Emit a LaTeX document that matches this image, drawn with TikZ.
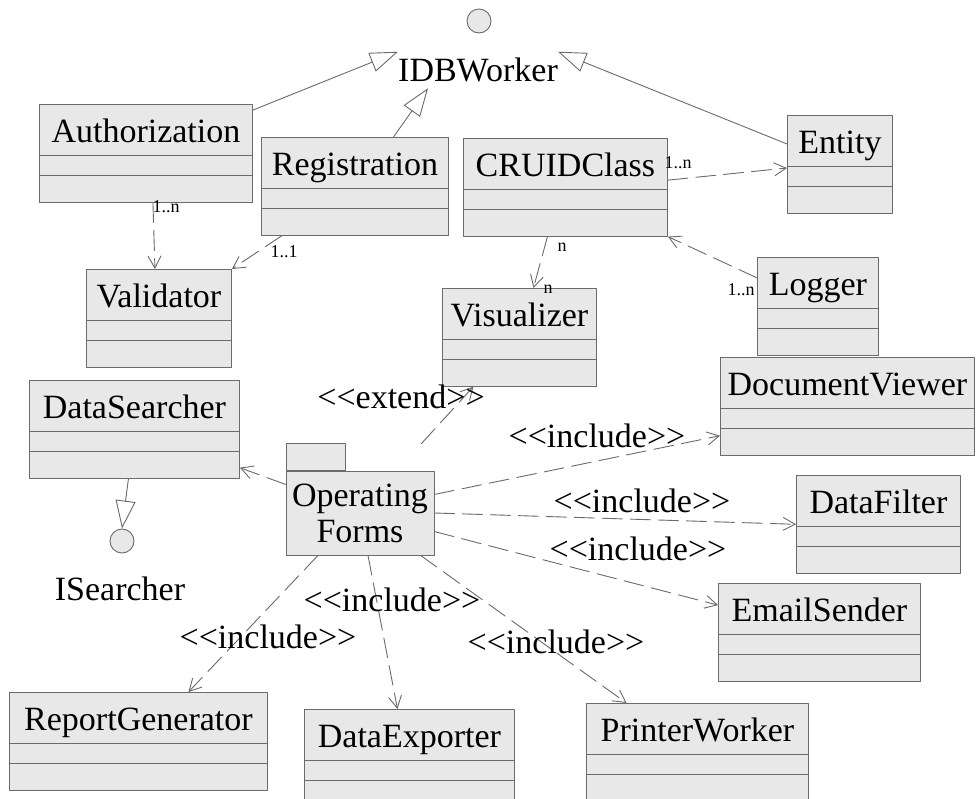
\documentclass[tikz,border=0pt]{standalone}
\usepackage{fontspec}
\newfontfamily\umlfont{Liberation Serif}
\usetikzlibrary{arrows.meta}
\usetikzlibrary{shapes.multipart}
\definecolor{boxgray}{rgb}{0.91,0.91,0.91}
\definecolor{edgegray}{rgb}{0.42,0.42,0.42}
\newcommand{\classparts}[1]{\rule[-12pt]{0pt}{50pt}#1\nodepart{two}\rule{0pt}{19pt}\nodepart{three}\rule{0pt}{26pt}}

\begin{document}
\begin{tikzpicture}[line cap=round,line join=round,x=1pt,y=-1pt,
  classbox/.style={rectangle split,rectangle split parts=3,draw=edgegray,fill=boxgray,line width=0.9pt,inner sep=0pt,text width=#1,align=center,anchor=north west,font=\umlfont\fontsize{34}{36}\selectfont},
  pkgbox/.style={draw=edgegray,fill=boxgray,line width=0.9pt,inner sep=0pt,minimum width=148pt,minimum height=84pt,align=center,font=\umlfont\fontsize{34}{36}\selectfont},
  pkgtab/.style={draw=edgegray,fill=boxgray,line width=0.9pt,inner sep=0pt,minimum width=59pt,minimum height=27pt,anchor=south west},
  iface/.style={circle,draw=edgegray,fill=boxgray,line width=0.9pt,minimum size=24pt,inner sep=0pt},
  bigtext/.style={font=\umlfont\fontsize{34}{36}\selectfont,inner xsep=0pt,inner ysep=6pt},
  mult/.style={font=\umlfont\fontsize{18}{20}\selectfont,inner sep=0pt,anchor=base},
  stereo/.style={font=\umlfont\fontsize{34}{36}\selectfont,inner sep=0pt,anchor=base},
  gen/.style={draw=edgegray,line width=0.9pt,-{Triangle[open,length=28pt,width=20pt]}},
  dep/.style={draw=edgegray,line width=0.9pt,dash pattern=on 20pt off 8pt,-{Straight Barb[length=12pt,width=13pt]}}]
\useasboundingbox[fill=white] (0,0) rectangle (976,798);

% interfaces
\node[iface] (idb) at (479,21) {};
\node[bigtext] (idbname) at (478,70) {IDBWorker};
\node[iface] (isearch) at (122,541) {};
\node[bigtext,anchor=base] (isname) at (120,600) {ISearcher};

% classes
\node[classbox=213pt] (auth) at (39,104) {\classparts{Authorization}};
\node[classbox=187pt] (reg) at (261,137) {\classparts{Registration}};
\node[classbox=145pt] (valid) at (86,269) {\classparts{Validator}};
\node[classbox=204pt] (cruid) at (463,138) {\classparts{CRUIDClass}};
\node[classbox=105pt] (entity) at (787,115) {\classparts{Entity}};
\node[classbox=154pt] (visual) at (442,288) {\classparts{Visualizer}};
\node[classbox=121pt] (logger) at (757,257) {\classparts{Logger}};
\node[classbox=254pt] (docview) at (720,357) {\classparts{DocumentViewer}};
\node[classbox=210pt] (search) at (29,380) {\classparts{DataSearcher}};
\node[classbox=164pt] (filter) at (796,475) {\classparts{DataFilter}};
\node[classbox=202pt] (email) at (718,583) {\classparts{EmailSender}};
\node[classbox=258pt] (report) at (9,692) {\classparts{ReportGenerator}};
\node[classbox=210pt] (exporter) at (304,709) {\classparts{DataExporter}};
\node[classbox=222pt] (printer) at (586,703) {\classparts{PrinterWorker}};

% package
\node[pkgbox] (forms) at (360,513) {Operating\\Forms};
\node[pkgtab] (formstab) at (forms.north west) {};

% generalizations
\draw[gen] (auth.22) -- (idbname.north west);
\draw[gen] (reg.52) -- ([xshift=-50pt]idbname.south);
\draw[gen] (entity.159) -- (idbname.north east);
\draw[gen] ([xshift=-6pt]search.south) -- (isearch.north);

% associations
\draw[dep] ([xshift=7pt]auth.south) -- ([xshift=-4pt]valid.north);
\node[mult] (multauth) at (166,212) {1..n};
\draw[dep] ([xshift=21pt]reg.south west) -- (valid.north east);
\node[mult] (multreg) at (284,257) {1..1};
\draw[dep] (cruid.4) -- (entity.184);
\node[mult] (multentity) at (678,168) {1..n};
\draw[dep] ([xshift=-18pt]cruid.south) -- ([xshift=14pt]visual.north);
\node[mult] (multcruid) at (562,251) {n};
\node[mult] (multvisual) at (548,293) {n};
\draw[dep] (logger.155) -- (cruid.south east);
\node[mult] (multlogger) at (741,295) {1..n};

% use of the forms
\draw[dep] ([shift={(-13pt,27pt)}]forms.north east) -- ([xshift=-46pt]visual.south);
\node[stereo] (extlabel) at (401,408) {<<extend>>};
\draw[dep] (forms.159) -- (search.340);
\draw[dep] (forms.14) -- (docview.193);
\node[stereo] (inclview) at (597,447) {<<include>>};
\draw[dep] (forms.east) -- (filter.west);
\node[stereo] (inclfilter) at (642,512) {<<include>>};
\draw[dep] (forms.-14) -- (email.165);
\node[stereo] (inclmail) at (638,560) {<<include>>};
\draw[dep] (forms.-35) -- ([xshift=-71pt]printer.north);
\node[stereo] (inclprint) at (556,653) {<<include>>};
\draw[dep] ([xshift=8pt]forms.south) -- ([xshift=-12pt]exporter.north);
\node[stereo] (inclexport) at (392,611) {<<include>>};
\draw[dep] ([xshift=-42pt]forms.south) -- ([xshift=50pt]report.north);
\node[stereo] (inclreport) at (268,648) {<<include>>};
\end{tikzpicture}
\end{document}
